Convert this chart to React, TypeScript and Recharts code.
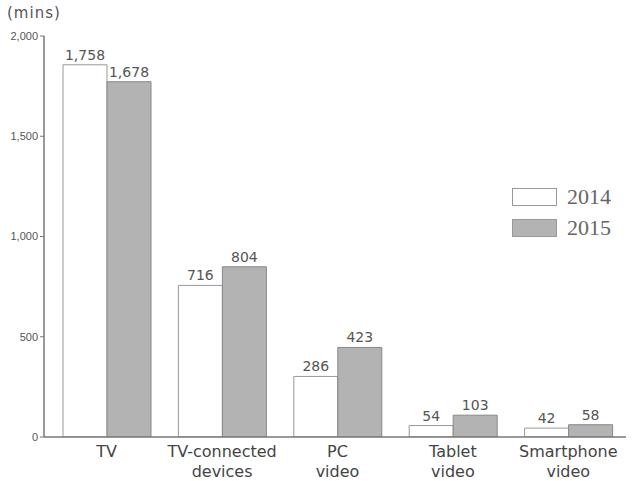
import { BarChart, Bar, XAxis, YAxis, LabelList, Legend } from "recharts";

const categories = ["TV", "TV-connected\ndevices", "PC\nvideo", "Tablet\nvideo", "Smartphone\nvideo"];
const values2014 = [1758, 716, 286, 54, 42];
const values2015 = [1678, 804, 423, 103, 58];
const yTicks = [0, 500, 1000, 1500, 2000];

const data = categories.map((name, i) => ({
  name,
  y2014: values2014[i],
  y2015: values2015[i],
}));

const SANS = "'DejaVu Sans', sans-serif";

const CategoryTick = ({ x, y, payload }: any) => {
  const lines = String(payload.value).split("\n");
  return (
    <text x={x} y={y} textAnchor="middle" fill="#444" fontSize={16} fontFamily={SANS}>
      {lines.map((line, i) => (
        <tspan key={i} x={x} dy={20}>
          {line}
        </tspan>
      ))}
    </text>
  );
};

const renderLegend = (props: any) => {
  const { payload } = props;
  return (
    <div>
      {payload.map((entry: any, i: number) => (
        <div key={i} style={{ display: "flex", alignItems: "center", height: 31 }}>
          <div
            style={{
              width: 43,
              height: 16,
              background: entry.color,
              border: "1px solid #999",
            }}
          />
          <span
            style={{
              marginLeft: 10,
              fontFamily: "'Liberation Serif', serif",
              fontSize: 22,
              color: "#666",
            }}
          >
            {entry.value}
          </span>
        </div>
      ))}
    </div>
  );
};

const formatNum = (v: any) => Number(v).toLocaleString("en-US");

export default function App() {
  return (
    <div style={{ position: "absolute", left: 0, top: 0, width: 636, height: 481, background: "#fff" }}>
      <div
        style={{
          position: "absolute",
          left: 7,
          top: 4,
          fontFamily: SANS,
          fontSize: 15,
          letterSpacing: 1,
          color: "#555",
        }}
      >
        (mins)
      </div>
      <BarChart
        width={636}
        height={481}
        data={data}
        margin={{ top: 36, right: 10, bottom: 0, left: 0 }}
        barGap={0}
        barSize={44}
      >
        <XAxis
          dataKey="name"
          height={44}
          padding={{ left: 5, right: 0 }}
          tickLine={false}
          tickSize={0}
          tickMargin={0}
          interval={0}
          axisLine={{ stroke: "#777", strokeWidth: 1.5 }}
          tick={<CategoryTick />}
        />
        <YAxis
          yAxisId="left"
          orientation="left"
          width={44}
          domain={[0, 2000]}
          ticks={yTicks}
          allowDataOverflow
          tickFormatter={formatNum}
          tickSize={4}
          tickMargin={2}
          axisLine={{ stroke: "#777", strokeWidth: 1.5 }}
          tickLine={{ stroke: "#777" }}
          tick={{ fill: "#555", fontSize: 11, fontFamily: "'Liberation Sans', sans-serif" }}
        />
        <YAxis yAxisId="bars" orientation="right" width={0} hide domain={[0, 1894]} allowDataOverflow />
        <Legend
          layout="horizontal"
          verticalAlign="middle"
          align="center"
          wrapperStyle={{ position: "absolute", left: 512, top: 181, width: "auto" }}
          content={renderLegend}
        />
        <Bar
          yAxisId="bars"
          dataKey="y2014"
          name="2014"
          fill="#ffffff"
          stroke="#999"
          strokeWidth={1}
          isAnimationActive={false}
        >
          <LabelList
            dataKey="y2014"
            position="top"
            offset={5}
            formatter={formatNum}
            fill="#555"
            fontSize={14}
            fontFamily={SANS}
          />
        </Bar>
        <Bar
          yAxisId="bars"
          dataKey="y2015"
          name="2015"
          fill="#b3b3b3"
          stroke="#888"
          strokeWidth={1}
          isAnimationActive={false}
        >
          <LabelList
            dataKey="y2015"
            position="top"
            offset={5}
            formatter={formatNum}
            fill="#555"
            fontSize={14}
            fontFamily={SANS}
          />
        </Bar>
      </BarChart>
    </div>
  );
}
